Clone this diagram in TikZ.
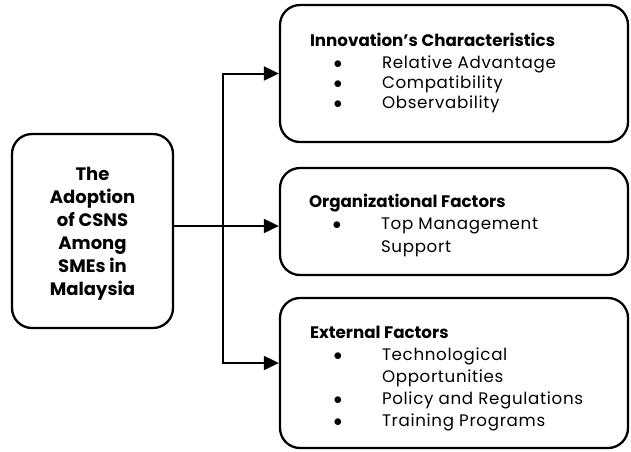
\documentclass[tikz,border=0pt]{standalone}
\usepackage{fontspec}
\setmainfont{Poppins}
\usetikzlibrary{positioning,arrows.meta}

% bullet line inside a factor box
\newcommand{\factoritem}[1]{\makebox[72pt][l]{\hspace{23.5pt}$\bullet$}{\addfontfeature{LetterSpace=4}#1}}

\begin{document}
\begin{tikzpicture}[
  x=1pt, y=-1pt,
  >={Triangle[length=15pt,width=14pt]},
  line width=2pt,
  box/.style={draw, rounded corners=20pt, line width=2.3pt, inner sep=0pt},
  main_txt/.style={font=\fontsize{18}{23}\selectfont\bfseries, align=center},
  factor_txt/.style={font=\fontsize{16.7}{20}\selectfont, align=left, anchor=north west, inner sep=0pt}
]
\useasboundingbox (0,0) rectangle (631,451);

% --- Bloco principal ---
\node[box, main_txt, minimum width=161pt, minimum height=194pt] (adopt) at (92.5,231)
  {\rule{0pt}{19pt}The\\Adoption\\of CSNS\\Among\\SMEs in\\Malaysia};

% --- Fatores ---
\node[box, minimum width=348pt, minimum height=137pt] (innov) at (454,73.5) {};
\node[box, minimum width=348pt, minimum height=107pt] (org)   at (454,221.5) {};
\node[box, minimum width=348pt, minimum height=150pt] (ext)   at (454,373) {};

\node[factor_txt] (innov_txt) at (309,32)
  {\textbf{Innovation’s Characteristics}\\[2pt]
   \factoritem{Relative Advantage}\\
   \factoritem{Compatibility}\\
   \factoritem{Observability}};
\node[factor_txt] (org_txt) at (308,193)
  {\textbf{Organizational Factors}\\[2.5pt]
   \factoritem{Top Management}\\[3pt]
   \hspace*{72pt}{\addfontfeature{LetterSpace=4}Support}};
\node[factor_txt, font=\fontsize{16.7}{22}\selectfont] (ext_txt) at (309,325)
  {\textbf{External Factors}\\
   \factoritem{Technological}\\
   \hspace*{72pt}{\addfontfeature{LetterSpace=4}Opportunities}\\
   \factoritem{Policy and Regulations}\\
   \factoritem{Training Programs}};

% --- Conexões ---
\coordinate (split) at (223,226);
\draw (adopt.east |- split) -- (split);
\draw[->] (split) |- (innov.west);
\draw[->] (split) -- (org.west |- split);
\draw[->] (split) |- (ext.west |- 0,363);

\end{tikzpicture}
\end{document}
